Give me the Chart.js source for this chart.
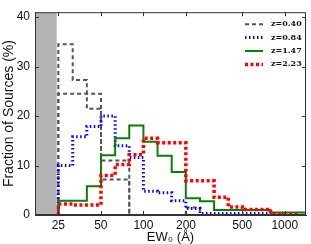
<!DOCTYPE html>
<html>
<head>
<meta charset="utf-8">
<script src="https://cdn.jsdelivr.net/npm/chart.js@4"></script>
<style>
  body { margin: 0; background: #fff; }
</style>
</head>
<body>
<canvas id="ewChart" width="311" height="244"></canvas>
<script>
// bin edges in EW0 (Angstrom), 0.1 dex wide from 25 A
const binEdges = [25, 31.6, 39.8, 50.1, 63.1, 79.4, 100, 125.9, 158.5, 199.5, 251.2, 316.2, 398.1, 501.2, 631, 794.3, 1000, 1258.9, 1584.9];

const seriesLabels = ['z=0.40', 'z=0.84', 'z=1.47', 'z=2.23'];

// fraction of sources (%) per bin
const z040 = [34.5, 27.3, 21.5, 7.2, 7.2, 0, 0, 0, 0, 1.5, 0, 0, 0, 0, 0, 0];
const z040WideEdges = [25, 50.1, 79.4, 100];
const z040Wide = [24.5, 11.0, 0];
const z084 = [10.0, 15.8, 17.9, 20.0, 14.0, 11.6, 4.8, 4.5, 2.9, 1.3, 0.3, 0.3, 0.3, 0.3, 0.3, 0.3];
const z147 = [2.9, 2.9, 5.8, 12.1, 15.5, 18.1, 14.8, 12.0, 8.7, 3.4, 2.8, 1.0, 1.0, 1.0, 1.0, 0.5, 0.5, 0.5];
const z223 = [2.2, 2.0, 2.0, 8.0, 10.2, 12.2, 15.5, 14.6, 14.6, 6.9, 6.9, 3.6, 1.6, 1.1, 1.1, 0.2, 0.2];

// excluded region (below the EW cut)
const shadeRange = [10, 24.4];

const xTicks = [25, 50, 100, 200, 500, 1000];
const yTicks = [0, 10, 20, 30, 40];

// turn bin values into a staircase outline
function stairs(edges, vals) {
    const pts = [{ x: edges[0], y: 0 }];
    vals.forEach((v, i) => {
        pts.push({ x: edges[i], y: v });
        pts.push({ x: edges[i + 1], y: v });
    });
    return pts;
}

const axisColor = '#333';

// box, inward ticks and the legend inside the plot
const framePlugin = {
    id: 'frame',
    afterDraw(chart) {
        const { ctx, chartArea: a, scales } = chart;
        ctx.save();
        ctx.strokeStyle = axisColor;
        ctx.lineWidth = 1;
        ctx.strokeRect(a.left + 0.5, a.top + 0.5, a.right - a.left - 1, a.bottom - a.top - 1);
        ctx.beginPath();
        xTicks.forEach(v => {
            const px = Math.round(scales.x.getPixelForValue(v)) + 0.5;
            ctx.moveTo(px, a.top); ctx.lineTo(px, a.top + 4);
            ctx.moveTo(px, a.bottom); ctx.lineTo(px, a.bottom - 4);
        });
        yTicks.forEach(v => {
            const py = Math.round(scales.y.getPixelForValue(v)) + 0.5;
            ctx.moveTo(a.left, py); ctx.lineTo(a.left + 4, py);
            ctx.moveTo(a.right, py); ctx.lineTo(a.right - 4, py);
        });
        ctx.stroke();

        // legend
        ctx.font = 'bold 8px "DejaVu Serif"';
        ctx.textBaseline = 'middle';
        ctx.textAlign = 'left';
        let y = a.top + 12;
        chart.data.datasets.forEach(ds => {
            if (!seriesLabels.includes(ds.label)) return;
            ctx.beginPath();
            ctx.strokeStyle = ds.borderColor;
            ctx.lineWidth = ds.borderWidth;
            ctx.setLineDash(ds.borderDash || []);
            ctx.moveTo(a.right - 61, y);
            ctx.lineTo(a.right - 43, y);
            ctx.stroke();
            ctx.setLineDash([]);
            ctx.fillStyle = '#111';
            ctx.fillText(ds.label, a.right - 35, y);
            y += 13.4;
        });
        ctx.restore();
    }
};

const lineBase = { pointRadius: 0, tension: 0, fill: false, borderCapStyle: 'butt', borderJoinStyle: 'miter' };

new Chart(document.getElementById('ewChart'), {
    type: 'line',
    data: {
        datasets: [
            Object.assign({}, lineBase, {
                label: seriesLabels[0],
                data: stairs(binEdges, z040),
                borderColor: '#555555', borderWidth: 2, borderDash: [4, 3], order: 4
            }),
            Object.assign({}, lineBase, {
                label: seriesLabels[1],
                data: stairs(binEdges, z084),
                borderColor: '#0000ff', borderWidth: 3, borderDash: [1.5, 2.5], order: 3
            }),
            Object.assign({}, lineBase, {
                label: seriesLabels[2],
                data: stairs(binEdges, z147),
                borderColor: '#0a7d0a', borderWidth: 2, order: 2
            }),
            Object.assign({}, lineBase, {
                label: seriesLabels[3],
                data: stairs(binEdges, z223),
                borderColor: '#ff0000', borderWidth: 3.5, borderDash: [3, 2.5], order: 1
            }),
            Object.assign({}, lineBase, {
                label: 'z=0.40 wide',
                data: stairs(z040WideEdges, z040Wide),
                borderColor: '#555555', borderWidth: 2, borderDash: [4, 3], order: 5
            }),
            {
                label: 'shade',
                data: [{ x: shadeRange[0], y: 50 }, { x: shadeRange[1], y: 50 }],
                pointRadius: 0, borderWidth: 0,
                backgroundColor: '#b3b3b3', fill: 'origin', order: 10
            }
        ]
    },
    options: {
        responsive: false,
        animation: false,
        devicePixelRatio: 1,
        layout: { padding: { top: 3, right: 5, left: 0, bottom: 0 } },
        plugins: { legend: { display: false }, tooltip: { enabled: false } },
        scales: {
            x: {
                type: 'logarithmic',
                min: 17.1,
                max: 1413,
                afterBuildTicks: scale => { scale.ticks = xTicks.map(v => ({ value: v })); },
                afterFit: scale => { scale.height = 29; },
                grid: { display: false, drawTicks: false },
                border: { display: true, color: axisColor },
                ticks: {
                    padding: 3, maxRotation: 0, autoSkip: false,
                    color: '#111',
                    font: { family: 'Liberation Sans', size: 12 },
                    callback: v => String(v)
                },
                title: {
                    display: true,
                    text: 'EW\u2080 (\u00c5)',
                    color: '#111',
                    font: { family: 'Liberation Sans', size: 13, lineHeight: 1 },
                    padding: { top: 0, bottom: 0 }
                }
            },
            y: {
                min: 0,
                max: 41,
                afterBuildTicks: scale => { scale.ticks = yTicks.map(v => ({ value: v })); },
                afterFit: scale => { scale.width = 35; },
                grid: { display: false, drawTicks: false },
                border: { display: true, color: axisColor },
                ticks: {
                    padding: 5,
                    color: '#111',
                    font: { family: 'Liberation Sans', size: 12 }
                },
                title: {
                    display: true,
                    text: 'Fraction of Sources (%)',
                    color: '#111',
                    font: { family: 'Liberation Sans', size: 14, lineHeight: 1 },
                    padding: { top: 2, bottom: 0 }
                }
            }
        }
    },
    plugins: [framePlugin]
});
</script>
</body>
</html>
